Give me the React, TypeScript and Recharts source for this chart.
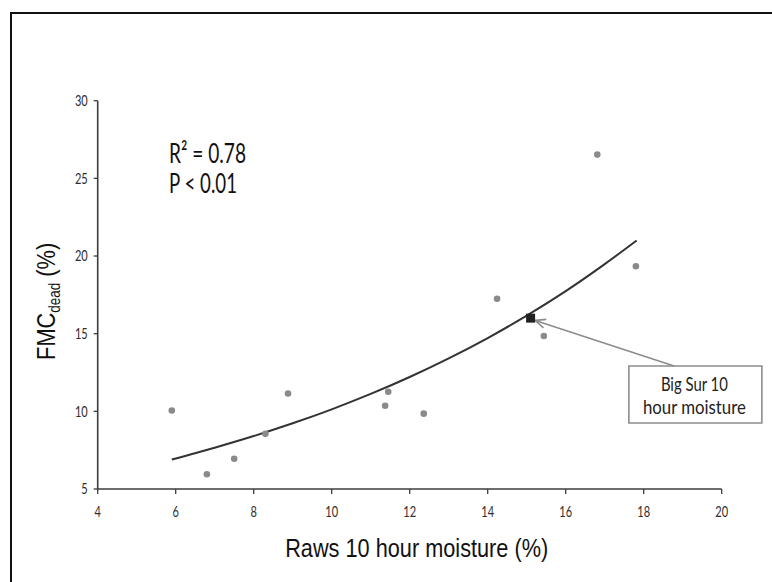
import {
  ComposedChart,
  XAxis,
  YAxis,
  Scatter,
  Line,
  ReferenceLine,
  ReferenceArea,
  ReferenceDot,
} from "recharts";

// axis ticks
const xTicks = [4, 6, 8, 10, 12, 14, 16, 18, 20];
const yTicks = [5, 10, 15, 20, 25, 30];

// RAWS stations: 10 hour moisture vs dead fuel moisture
const rawsMoisture = [5.9, 6.8, 7.5, 8.3, 8.88, 11.37, 11.45, 12.36, 14.24, 15.44, 16.81, 17.8];
const fmcDead = [10.05, 5.95, 6.95, 8.55, 11.15, 10.36, 11.26, 9.85, 17.25, 14.85, 26.53, 19.34];

// Big Sur station
const bigSurX = [15.1];
const bigSurY = [16.0];

// fitted curve
const fitX = [5.9, 7, 8, 9, 10, 11, 12, 13, 14, 15, 16, 17, 17.82];
const fitY = [6.9, 7.66, 8.41, 9.23, 10.13, 11.12, 12.21, 13.41, 14.72, 16.16, 17.74, 19.48, 21.0];

const statsLines = ["R² = 0.78", "P < 0.01"];
const calloutLines = ["Big Sur 10", "hour moisture"];

const points = rawsMoisture.map((x, i) => ({ x, y: fmcDead[i] }));
const bigSur = bigSurX.map((x, i) => ({ x, y: bigSurY[i] }));
const fit = fitX.map((x, i) => ({ x, y: fitY[i] }));

const sans = "Lato, 'Open Sans', sans-serif";
const arial = "'Liberation Sans', Arial, sans-serif";
const axisColor = "#3c3c3c";

// the original type is condensed, so squeeze each string to its measured width
const squeeze = (s: string, perChar: number) => s.length * perChar;

function XTick(props: any) {
  const { x, y, payload } = props;
  const s = String(payload.value);
  return (
    <text
      x={x}
      y={y}
      dy="0.72em"
      textAnchor="middle"
      fontFamily={sans}
      fontSize={15}
      fill="#2e2e2e"
      textLength={squeeze(s, 6.4)}
      lengthAdjust="spacingAndGlyphs"
    >
      {s}
    </text>
  );
}

function YTick(props: any) {
  const { x, y, payload } = props;
  const s = String(payload.value);
  return (
    <text
      x={x}
      y={y}
      dy="0.36em"
      textAnchor="end"
      fontFamily={sans}
      fontSize={15}
      fill="#2e2e2e"
      textLength={squeeze(s, 6.4)}
      lengthAdjust="spacingAndGlyphs"
    >
      {s}
    </text>
  );
}

function Dot(props: any) {
  return <circle cx={props.cx} cy={props.cy} r={3.3} fill="#8a8a8a" />;
}

function Square(props: any) {
  return <rect x={props.cx - 4.5} y={props.cy - 4.5} width={9} height={9} fill="#222" />;
}

function Arrow(props: any) {
  const { x1, y1, x2, y2 } = props;
  const a = Math.atan2(y2 - y1, x2 - x1);
  const len = 11;
  const spread = 0.42;
  const p1 = [x2 - len * Math.cos(a - spread), y2 - len * Math.sin(a - spread)];
  const p2 = [x2 - len * Math.cos(a + spread), y2 - len * Math.sin(a + spread)];
  return (
    <g>
      <line x1={x1} y1={y1} x2={x2} y2={y2} stroke="#8c8c8c" strokeWidth={1.6} />
      <polyline
        points={`${p1[0]},${p1[1]} ${x2},${y2} ${p2[0]},${p2[1]}`}
        fill="none"
        stroke="#8c8c8c"
        strokeWidth={1.6}
      />
    </g>
  );
}

const statsWidths = [77, 68];

function StatsLabel(props: any) {
  const { x, y } = props.viewBox;
  return (
    <g>
      {statsLines.map((t, i) => (
        <text
          key={t}
          x={x - 1}
          y={y + 1 + i * 30}
          fontFamily={sans}
          fontSize={27}
          fill="#111"
          textLength={statsWidths[i]}
          lengthAdjust="spacingAndGlyphs"
        >
          {t}
        </text>
      ))}
    </g>
  );
}

const calloutWidths = [67, 103];

function CalloutLabel(props: any) {
  const { x, y, width } = props.viewBox;
  return (
    <g>
      {calloutLines.map((t, i) => (
        <text
          key={t}
          x={x + width / 2 - 1}
          y={y + 25 + i * 23}
          textAnchor="middle"
          fontFamily={sans}
          fontSize={20}
          fill="#222"
          textLength={calloutWidths[i]}
          lengthAdjust="spacingAndGlyphs"
        >
          {t}
        </text>
      ))}
    </g>
  );
}

function YTitle(props: any) {
  const { x, y, height } = props.viewBox;
  const cx = x + 55;
  const cy = y + height / 2 + 6.5;
  return (
    <g transform={`translate(${cx}, ${cy}) rotate(-90) scale(0.84, 1)`}>
      <text x={0} y={0} textAnchor="middle" fontFamily={arial} fontSize={26} fill="#111">
        FMC
        <tspan fontSize={16} dy={5}>
          dead
        </tspan>
        <tspan dy={-5}> (%)</tspan>
      </text>
    </g>
  );
}

function XTitle(props: any) {
  const { x, y, width } = props.viewBox;
  return (
    <text
      x={x + width / 2 + 7}
      y={y + 68}
      textAnchor="middle"
      fontFamily={arial}
      fontSize={26}
      fill="#111"
      textLength={263}
      lengthAdjust="spacingAndGlyphs"
    >
      Raws 10 hour moisture (%)
    </text>
  );
}

export default function App() {
  return (
    <div
      style={{
        position: "absolute",
        left: 0,
        top: 0,
        width: 772,
        height: 582,
        overflow: "hidden",
        background: "#fff",
      }}
    >
      <div
        style={{
          position: "absolute",
          left: 10,
          top: 12,
          width: 900,
          height: 700,
          border: "2px solid #111",
        }}
      />
      <div style={{ position: "absolute", left: 0, top: 0 }}>
        <ComposedChart
          width={772}
          height={582}
          margin={{ top: 100.7, right: 50.3, left: 0, bottom: 23 }}
        >
          <XAxis
            type="number"
            dataKey="x"
            domain={[4, 20]}
            ticks={xTicks}
            allowDataOverflow
            height={70}
            axisLine={{ stroke: axisColor, strokeWidth: 1.6 }}
            tickLine={{ stroke: axisColor, strokeWidth: 1.3 }}
            tickSize={5}
            tickMargin={12}
            tick={<XTick />}
            label={<XTitle />}
          />
          <YAxis
            type="number"
            dataKey="y"
            domain={[5, 30]}
            ticks={yTicks}
            allowDataOverflow
            width={97.7}
            axisLine={{ stroke: axisColor, strokeWidth: 1.6 }}
            tickLine={{ stroke: axisColor, strokeWidth: 1.3 }}
            tickSize={4}
            tickMargin={6}
            tick={<YTick />}
            label={<YTitle />}
          />
          <Line
            data={fit}
            dataKey="y"
            type="monotone"
            stroke="#333"
            strokeWidth={2}
            dot={false}
            activeDot={false}
            isAnimationActive={false}
          />
          <Scatter data={points} dataKey="y" shape={Dot} isAnimationActive={false} />
          <Scatter data={bigSur} dataKey="y" shape={Square} isAnimationActive={false} />
          <ReferenceLine
            segment={[
              { x: 18.78, y: 12.92 },
              { x: 15.22, y: 15.85 },
            ]}
            ifOverflow="visible"
            shape={Arrow}
          />
          <ReferenceArea
            x1={17.62}
            x2={21.03}
            y1={9.25}
            y2={12.92}
            ifOverflow="visible"
            fill="#fff"
            fillOpacity={1}
            stroke="#8c8c8c"
            strokeWidth={1.6}
            label={<CalloutLabel />}
          />
          <ReferenceDot
            x={5.88}
            y={26.0}
            r={1}
            fill="none"
            stroke="none"
            ifOverflow="visible"
            label={<StatsLabel />}
          />
        </ComposedChart>
      </div>
    </div>
  );
}
